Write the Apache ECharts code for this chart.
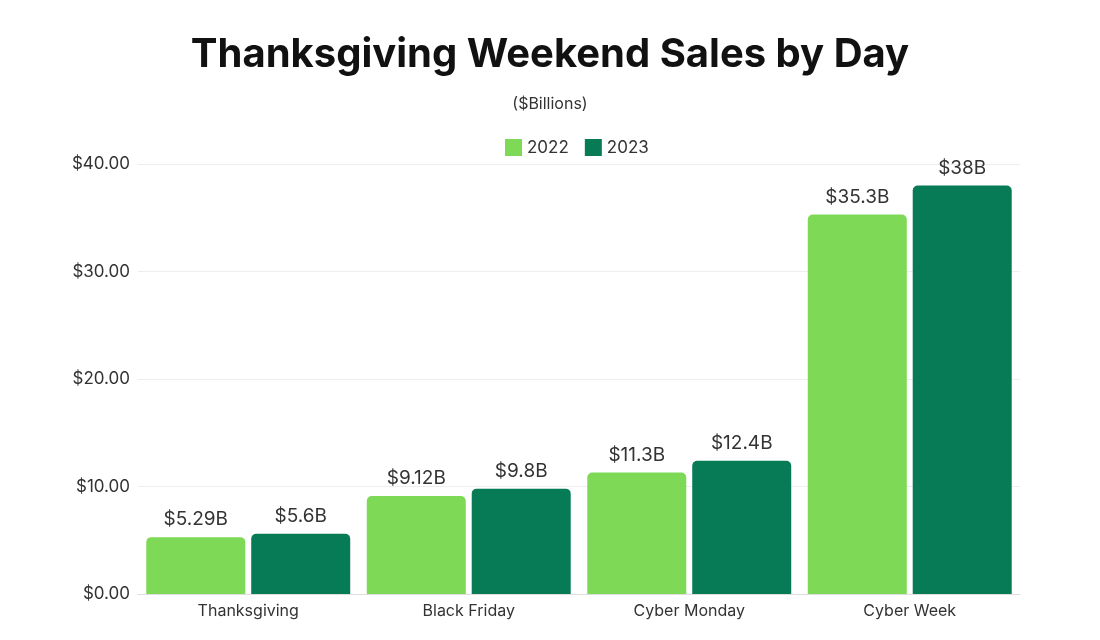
<!DOCTYPE html>
<html>
<head>
<meta charset="utf-8">
<script src="https://cdn.jsdelivr.net/npm/echarts@6/dist/echarts.min.js"></script>
<style>html,body{margin:0;padding:0;background:#fff}#c{width:1100px;height:640px}</style>
</head>
<body>
<div id="c"></div>
<script>
const categories = ['Thanksgiving', 'Black Friday', 'Cyber Monday', 'Cyber Week'];
const sales2022 = [5.29, 9.12, 11.3, 35.3];
const sales2023 = [5.6, 9.8, 12.4, 38];
const labels2022 = ['$5.29B', '$9.12B', '$11.3B', '$35.3B'];
const labels2023 = ['$5.6B', '$9.8B', '$12.4B', '$38B'];
const yTicks = [0, 10, 20, 30, 40];

const chart = echarts.init(document.getElementById('c'));
const font = 'Inter, "Noto Sans", sans-serif';
function mkLabel(arr) {
  return {
    show: true, position: 'top', distance: 8,
    formatter: p => arr[p.dataIndex],
    fontFamily: font, fontSize: 19, color: '#333'
  };
}
chart.setOption({
  animation: false,
  title: [{
    text: 'Thanksgiving Weekend Sales by Day',
    left: 'center', top: 30,
    textStyle: { fontFamily: font, fontSize: 40, fontWeight: 700, color: '#111' }
  }, {
    text: '($Billions)',
    left: 'center', top: 91,
    textStyle: { fontFamily: font, fontSize: 16, fontWeight: 400, color: '#333' }
  }],
  legend: {
    top: 134, left: 500,
    itemWidth: 17, itemHeight: 17, itemGap: 16,
    icon: 'rect',
    textStyle: { fontFamily: font, fontSize: 17, color: '#333' },
    data: ['2022', '2023']
  },
  grid: { left: 138, right: 80, top: 164, bottom: 46, containLabel: false },
  xAxis: {
    type: 'category', data: categories,
    axisLine: { lineStyle: { color: '#ddd' } },
    axisTick: { show: false },
    axisLabel: { fontFamily: font, fontSize: 16, color: '#333', margin: 9 }
  },
  yAxis: {
    type: 'value', min: yTicks[0], max: yTicks[yTicks.length - 1], interval: 10,
    axisLine: { show: false }, axisTick: { show: false },
    splitLine: { lineStyle: { color: '#eee' } },
    axisLabel: { fontFamily: font, fontSize: 17, color: '#333', margin: 8,
      formatter: v => '$' + v.toFixed(2) }
  },
  series: [{
    name: '2022', type: 'bar', data: sales2022,
    barWidth: 99, barGap: '6%',
    itemStyle: { color: '#7ED957', borderRadius: [5, 5, 0, 0] },
    label: mkLabel(labels2022)
  }, {
    name: '2023', type: 'bar', data: sales2023,
    barWidth: 99,
    itemStyle: { color: '#077A56', borderRadius: [5, 5, 0, 0] },
    label: mkLabel(labels2023)
  }]
});
</script>
</body>
</html>
